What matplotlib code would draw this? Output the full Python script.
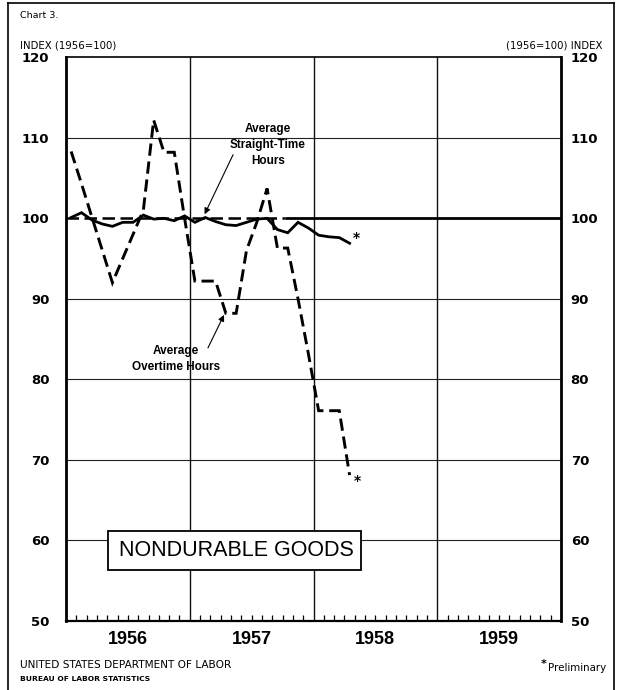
import matplotlib
matplotlib.use("Agg")
import matplotlib.pyplot as plt
import numpy as np
import pandas as pd
from matplotlib.transforms import blended_transform_factory
from matplotlib.patches import Rectangle
from matplotlib.lines import Line2D

# ---------------- data ----------------
months = pd.period_range("1956-01", "1958-04", freq="M")
straight_time = [100.1, 100.7, 99.8, 99.3, 99.0, 99.5, 99.5, 100.4, 99.9, 100.0, 99.7, 100.3,
                 99.5, 100.1, 99.6, 99.2, 99.1, 99.5, 99.9, 100.0, 98.6, 98.2, 99.5, 98.8,
                 97.9, 97.7, 97.6, 96.9]
overtime = [108.3, 104.3, 100.2, 96.1, 92.0, 95.0, 98.0, 101.0, 112.2, 108.2, 108.2, 100.0,
            92.2, 92.2, 92.2, 88.2, 88.2, 96.0, 99.5, 103.7, 96.3, 96.3, 90.0, 83.2,
            76.1, 76.1, 76.1, 68.1]
year_labels = ["1956", "1957", "1958", "1959"]
y_ticks = [50, 60, 70, 80, 90, 100, 110, 120]
base_value = 100

x = np.array([p.year + (p.month - 0.5) / 12 for p in months])
first_year = int(year_labels[0])
last_year = int(year_labels[-1]) + 1

W, H = 622, 690
fig = plt.figure(figsize=(W / 100, H / 100), dpi=100)
fig.patch.set_facecolor("white")

left, right, top, bottom = 66, 561, 57.3, 620.8
ax = fig.add_axes([left / W, 1 - bottom / H, (right - left) / W, (bottom - top) / H])
ax.set_xlim(first_year, last_year)
ax.set_ylim(y_ticks[0], y_ticks[-1])

# grid
for v in y_ticks[1:-1]:
    if v != base_value:
        ax.axhline(v, color="#222222", lw=0.8, zorder=1)
for yr in range(first_year + 1, last_year):
    ax.axvline(yr, color="#111111", lw=1.0, zorder=1)

# base line at 100
split = 1957.77
ax.plot([first_year, split], [base_value, base_value], color="black", lw=1.8,
        dashes=(5, 2.2), zorder=2)
ax.plot([split, last_year], [base_value, base_value], color="black", lw=2.0,
        solid_capstyle="butt", zorder=2)

# series
ax.plot(x, straight_time, color="black", lw=2.0, zorder=4, solid_joinstyle="miter")
ax.plot(x, overtime, color="black", lw=2.1, dashes=(4.2, 2.0), zorder=3,
        solid_joinstyle="miter", dash_joinstyle="miter")

# asterisks (preliminary)
ax.annotate("*", (x[-1], straight_time[-1]), xytext=(2, 4), textcoords="offset points",
            fontsize=10, fontweight="bold", ha="left", va="center")
ax.annotate("*", (x[-1], overtime[-1]), xytext=(3, -4), textcoords="offset points",
            fontsize=10, fontweight="bold", ha="left", va="center")

# spines
for s, lw in [("left", 2.0), ("right", 2.0), ("bottom", 1.6), ("top", 1.2)]:
    ax.spines[s].set_linewidth(lw)
    ax.spines[s].set_color("black")

# ticks
ax.set_yticks(y_ticks)
ax.set_yticklabels([str(v) for v in y_ticks])
ax.tick_params(axis="y", length=0, pad=12, labelsize=9.5)
for lab in ax.get_yticklabels():
    lab.set_fontweight("bold")
ax2 = ax.twinx()
ax2.set_ylim(ax.get_ylim())
ax2.set_yticks(y_ticks)
ax2.set_yticklabels([str(v) for v in y_ticks])
ax2.tick_params(axis="y", length=0, pad=7, labelsize=9.5)
for lab in ax2.get_yticklabels():
    lab.set_fontweight("bold")
for s in ax2.spines.values():
    s.set_visible(False)

ax.set_xticks(range(first_year, last_year + 1))
ax.set_xticklabels([])
ax.tick_params(axis="x", which="major", length=0)
month_ticks = [first_year + m / 12 for m in range(0, (last_year - first_year) * 12 + 1)]
ax.set_xticks(month_ticks, minor=True)
ax.tick_params(axis="x", which="minor", direction="in", length=4.5, width=0.9, color="black")

tr = blended_transform_factory(ax.transData, ax.transAxes)
for i, lab in enumerate(year_labels):
    ax.text(first_year + i + 0.5, -0.018, lab, transform=tr, ha="center", va="top",
            fontsize=13, fontweight="bold", family="Liberation Sans")

# annotations
ann_font = dict(fontsize=8.5, fontweight="bold", family="Liberation Sans",
                ha="center", va="center", linespacing=1.45)
ax.text(1957.63, 109.1, "Average\nStraight-Time\nHours", **ann_font)
ax.annotate("", xy=(1957.12, 100.5), xytext=(1957.35, 107.9),
            arrowprops=dict(arrowstyle="-|>", color="black", lw=0.8, mutation_scale=9,
                            shrinkA=0, shrinkB=0))
ax.text(1956.89, 82.5, "Average\nOvertime Hours", **ann_font)
ax.annotate("", xy=(1957.277, 88.0), xytext=(1957.147, 83.9),
            arrowprops=dict(arrowstyle="-|>", color="black", lw=0.8, mutation_scale=9,
                            shrinkA=0, shrinkB=0))

# NONDURABLE GOODS box (figure pixel coords)
def fx(px):
    return px / W

def fy(py):
    return 1 - py / H

box = Rectangle((fx(108), fy(570)), fx(361) - fx(108), fy(531) - fy(570),
                transform=fig.transFigure, facecolor="white", edgecolor="black",
                lw=1.3, zorder=10)
fig.patches.append(box)
fig.text(fx(236), fy(550.5), "NONDURABLE GOODS", ha="center", va="center",
         fontsize=15.5, family="Liberation Sans", zorder=11)

# header texts
fig.text(fx(20), fy(16), "Chart 3.", fontsize=6.8, ha="left", va="center",
         family="DejaVu Sans")
fig.text(fx(20), fy(45), "INDEX (1956=100)", fontsize=7.3, ha="left", va="center",
         family="DejaVu Sans")
fig.text(fx(602), fy(45), "(1956=100) INDEX", fontsize=7.3, ha="right", va="center",
         family="DejaVu Sans")

# footer
fig.text(fx(20), fy(665), "UNITED STATES DEPARTMENT OF LABOR", fontsize=7.6, ha="left",
         va="center", family="DejaVu Sans")
fig.text(fx(20), fy(679), "BUREAU OF LABOR STATISTICS", fontsize=5.4, ha="left",
         va="center", family="DejaVu Sans", fontweight="bold")
fig.text(fx(606), fy(668), "Preliminary", fontsize=7.4, ha="right", va="center",
         family="DejaVu Sans")
fig.text(fx(547), fy(664), "*", fontsize=8, ha="right", va="center",
         family="DejaVu Sans", fontweight="bold")

# outer frame
for (x0, y0, x1, y1) in [(8, 3, 614, 3), (8, 3, 8, 690), (614, 3, 614, 690)]:
    fig.add_artist(Line2D([fx(x0), fx(x1)], [fy(y0), fy(y1)], transform=fig.transFigure,
                          color="black", lw=1.2))

fig.savefig("out.png", dpi=100)
